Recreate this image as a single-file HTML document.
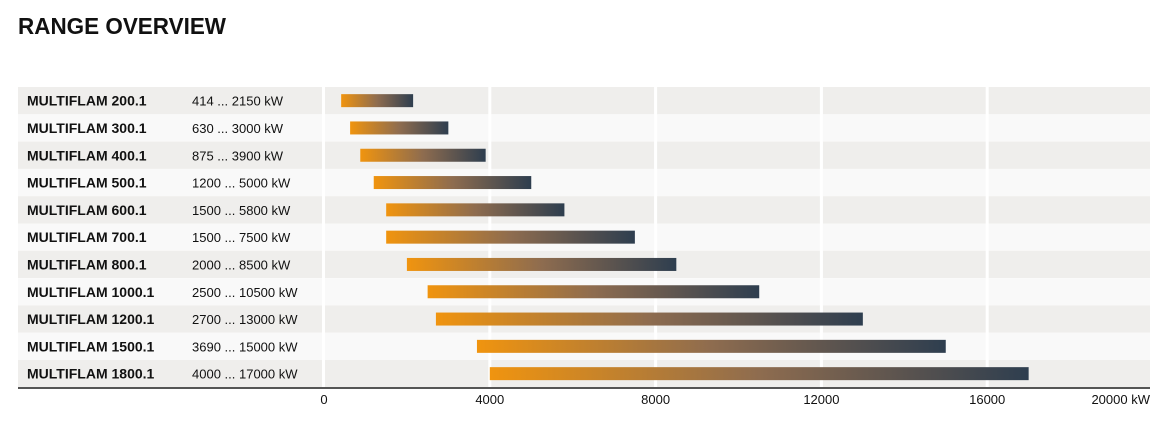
<!DOCTYPE html>
<html><head><meta charset="utf-8"><style>
body{margin:0;background:#fff;width:1171px;height:433px;overflow:hidden;font-family:"Liberation Sans",sans-serif;}
svg text{font-family:"Liberation Sans",sans-serif;}
</style></head><body>
<svg width="1171" height="433">
<defs><linearGradient id="g" x1="0" x2="1" y1="0" y2="0"><stop offset="0" stop-color="#f0940f"/><stop offset="0.5" stop-color="#8e6c4f"/><stop offset="1" stop-color="#2e3e4f"/></linearGradient></defs>
<text x="18" y="34" font-size="23" font-weight="bold" fill="#111" textLength="208" lengthAdjust="spacingAndGlyphs">RANGE OVERVIEW</text>
<g id="rows"></g>
<g id="grid"></g>
<g id="bars"></g>
<line x1="18" x2="1150" y1="388" y2="388" stroke="#555" stroke-width="2"/>
<g id="ticks"></g>
</svg>
<script>
const models=["MULTIFLAM 200.1","MULTIFLAM 300.1","MULTIFLAM 400.1","MULTIFLAM 500.1","MULTIFLAM 600.1","MULTIFLAM 700.1","MULTIFLAM 800.1","MULTIFLAM 1000.1","MULTIFLAM 1200.1","MULTIFLAM 1500.1","MULTIFLAM 1800.1"];
const minKW=[414,630,875,1200,1500,1500,2000,2500,2700,3690,4000];
const maxKW=[2150,3000,3900,5000,5800,7500,8500,10500,13000,15000,17000];
const tickVals=[0,4000,8000,12000,16000,20000];
const tickLabels=["0","4000","8000","12000","16000","20000 kW"];
const NS="http://www.w3.org/2000/svg";
const x0=324,xScale=(1153-324)/20000;
const X=v=>x0+v*xScale;
const topY=87,rowH=27.3;
const Y=i=>topY+i*rowH;
function mk(tag,attrs,parent,txt){const e=document.createElementNS(NS,tag);for(const k in attrs)e.setAttribute(k,attrs[k]);if(txt!==undefined)e.textContent=txt;parent.appendChild(e);return e;}
const rows=document.getElementById('rows'),grid=document.getElementById('grid'),bars=document.getElementById('bars'),ticks=document.getElementById('ticks');
models.forEach((m,i)=>{
  const fill=i%2===0?"#efeeec":"#f9f9f9";
  const y=Y(i);
  const band=mk('rect',{x:18,y:y,width:1132,height:rowH,fill:fill},rows);
  
  
  const t=mk('text',{x:27,y:y+rowH/2+5,'font-size':14,'font-weight':'bold',fill:'#111'},rows,m);
  
  
  const r=mk('text',{x:192,y:y+rowH/2+5,'font-size':13,fill:'#111'},rows,minKW[i]+" ... "+maxKW[i]+" kW");
  
  
  const b=mk('rect',{x:X(minKW[i]),y:y+rowH/2-6.5,width:X(maxKW[i])-X(minKW[i]),height:13,fill:'url(#g)'},bars);
  
  
});
const sep=mk('rect',{x:322,y:topY,width:3,height:rowH*11,fill:'#fff'},grid);


tickVals.forEach((v,i)=>{
  if(v>0&&v<20000){
    const g=mk('rect',{x:X(v)-1.5,y:topY,width:3,height:rowH*11,fill:'#fff'},grid);
    
    
  }
  const anchor=i===tickVals.length-1?'end':'middle';
  const tx=i===tickVals.length-1?1150:X(v);
  const t=mk('text',{x:tx,y:404,'font-size':13,fill:'#111','text-anchor':anchor},ticks,tickLabels[i]);
  
  
});
</script>
</body></html>
